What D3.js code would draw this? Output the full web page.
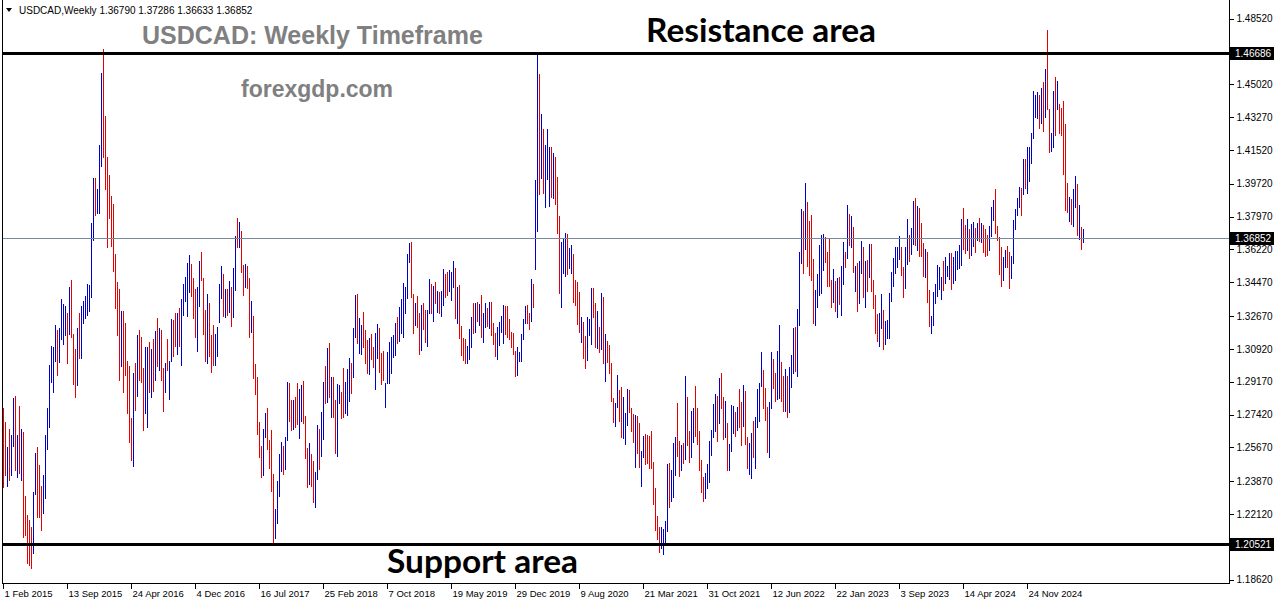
<!DOCTYPE html>
<html><head><meta charset="utf-8">
<script src="https://cdn.jsdelivr.net/npm/d3@7"></script>
<style>
html,body{margin:0;padding:0;background:#fff;}
svg{display:block;}
</style></head><body>
<svg id="chart" width="1276" height="604"></svg>
<script>
// ---------------- data ----------------
const symbolName = "USDCAD,Weekly";
const lastOHLC = ["1.36790", "1.37286", "1.36633", "1.36852"];
const firstWeek = "2015-02-01";
const highs = [
1.2778,1.2705,1.2567,1.2668,1.2631,1.2833,1.2843,1.2631,1.2788,1.2668,
1.2650,1.2309,1.2208,1.2181,1.2144,1.2328,1.2539,1.2567,1.2475,1.2364,
1.2420,1.2631,1.2778,1.3008,1.3109,1.3100,1.3220,1.3192,1.3201,1.3358,
1.3330,1.3321,1.3284,1.3422,1.3459,1.3174,1.3091,1.3201,1.3284,1.3321,
1.3348,1.3376,1.3440,1.3431,1.3762,1.4001,1.4001,1.3946,1.4180,1.4562,
1.4691,1.4332,1.4112,1.4020,1.3909,1.3863,1.3597,1.3450,1.3413,1.3293,
1.3293,1.3229,1.3027,1.2999,1.2723,1.2962,1.3017,1.3168,1.3192,1.3155,
1.2990,1.3100,1.3100,1.3128,1.3091,1.3146,1.3187,1.3256,1.3201,1.3192,
1.2990,1.3017,1.3146,1.3027,1.3253,1.3247,1.3284,1.3284,1.3312,1.3358,
1.3440,1.3477,1.3551,1.3591,1.3542,1.3468,1.3413,1.3422,1.3560,1.3606,
1.3468,1.3302,1.3385,1.3339,1.3165,1.3220,1.3174,1.3210,1.3440,
1.3533,1.3491,1.3409,1.3409,1.3455,1.3420,1.3521,1.3693,1.3787,1.3766,
1.3720,1.3539,1.3544,1.3533,1.3468,1.3347,1.3267,1.3011,1.2940,1.2704,
1.2574,1.2663,1.2748,1.2775,1.2606,1.2660,1.2423,1.2237,1.2388,1.2532,
1.2597,1.2574,1.2624,1.2917,1.2912,1.2819,1.2819,1.2834,1.2908,1.2876,
1.2899,1.2921,1.2734,1.2562,1.2589,1.2532,1.2494,1.2438,1.2686,1.2663,
1.2757,1.2917,1.3001,1.3098,1.3121,1.2944,1.2940,1.2819,1.2905,1.2899,
1.2864,1.2993,1.2917,1.2983,1.3041,1.3015,1.3201,1.3379,1.3384,1.3255,
1.3219,1.3290,1.3192,1.3139,1.3148,1.3171,1.3104,1.3175,1.3224,1.3201,
1.3068,1.3080,1.2908,1.3077,1.3130,1.3157,1.3166,1.3231,1.3263,1.3317,
1.3359,1.3445,1.3423,1.3597,1.3654,1.3659,1.3384,1.3334,1.3374,1.3281,
1.3326,1.3334,1.3299,1.3302,1.3462,1.3437,1.3427,1.3450,1.3402,1.3397,
1.3402,1.3516,1.3491,1.3504,1.3513,1.3504,1.3562,1.3521,1.3424,1.3433,
1.3214,1.3148,1.3143,1.3108,1.3196,1.3260,1.3338,1.3335,1.3344,1.3331,
1.3379,1.3285,1.3338,1.3308,1.3344,1.3344,1.3232,1.3175,1.3211,1.3237,
1.3267,1.3326,1.3321,1.3321,1.3250,1.3184,1.3175,1.3083,1.3101,1.3077,
1.3172,1.3250,1.3321,1.3326,1.3282,1.3463,1.3438,1.3992,1.4658,1.4557,
1.4344,1.4262,1.4179,1.4262,1.4170,1.4166,1.4134,1.4113,1.4006,1.3800,
1.3663,1.3681,1.3711,1.3704,1.3628,1.3646,1.3598,1.3459,1.3450,1.3397,
1.3260,1.3237,1.3161,1.3260,1.3250,1.3415,1.3415,1.3335,1.3296,1.3207,
1.3388,1.3370,1.3172,1.3136,1.3113,1.3015,1.2829,1.2806,1.2953,1.2873,
1.2891,1.2834,1.2749,1.2877,1.2873,1.2776,1.2745,1.2740,1.2735,1.2699,
1.2550,1.2628,1.2639,1.2633,1.2628,1.2657,1.2491,1.2349,1.2202,1.2141,
1.2145,1.2131,1.2177,1.2479,1.2486,1.2447,1.2593,1.2621,1.2806,1.2604,
1.2581,1.2593,1.2948,1.2834,1.2657,1.2763,1.2776,1.2895,1.2776,1.2657,
1.2501,1.2412,1.2430,1.2479,1.2604,1.2660,1.2799,1.2852,1.2842,1.2936,
1.2966,1.2834,1.2817,1.2699,1.2586,1.2794,1.2788,1.2758,1.2785,1.2877,
1.2811,1.2900,1.2870,1.2625,1.2593,1.2643,1.2710,1.2728,1.2877,1.2913,
1.3078,1.2980,1.2882,1.2781,1.2811,1.3078,1.3037,1.2966,1.3083,1.3220,
1.3024,1.2948,1.2984,1.2948,1.2998,1.3060,1.3202,1.3207,1.3303,1.3611,
1.3836,1.3829,1.3978,1.3877,1.3776,1.3806,1.3570,1.3406,1.3492,1.3646,
1.3699,1.3705,1.3687,1.3611,1.3682,1.3460,1.3516,1.3456,1.3468,1.3474,
1.3534,1.3664,1.3611,1.3859,1.3811,1.3801,1.3744,1.3534,1.3548,1.3563,
1.3669,1.3634,1.3563,1.3566,1.3651,1.3651,1.3460,1.3380,1.3278,1.3286,
1.3384,1.3302,1.3242,1.3246,1.3391,1.3503,1.3574,1.3636,1.3636,1.3693,
1.3636,1.3530,1.3633,1.3782,1.3699,1.3734,1.3881,1.3894,1.3853,1.3841,
1.3764,1.3658,1.3627,1.3610,1.3406,1.3267,1.3397,1.3437,1.3539,1.3530,
1.3476,1.3562,1.3583,1.3533,1.3604,1.3604,1.3583,1.3615,1.3615,1.3645,
1.3782,1.3841,1.3752,1.3782,1.3729,1.3757,1.3770,1.3734,1.3761,1.3787,
1.3764,1.3752,1.3729,1.3699,1.3746,1.3846,1.3885,1.3942,1.3746,1.3690,
1.3636,1.3580,1.3619,1.3640,1.3610,1.3587,1.3778,1.3835,1.3894,1.3956,
1.3952,1.4102,1.4102,1.4169,1.4166,1.4240,1.4467,1.4444,1.4462,1.4444,
1.4480,1.4515,1.4586,1.4791,1.4368,1.4244,1.4467,1.4539,1.4521,1.4396,
1.4373,1.4414,1.4290,1.3974,1.3899,1.3889,1.3942,1.4013,1.3970,1.3858,
1.3739,1.37286
];
const lows = [
1.2355,1.2420,1.2361,1.2392,1.2420,1.2576,1.2447,1.2410,1.2429,1.2392,
1.2089,1.2098,1.1951,1.1942,1.1923,1.2006,1.2319,1.2199,1.2199,1.2125,
1.2217,1.2300,1.2558,1.2677,1.2916,1.2861,1.3027,1.2953,1.3021,1.3146,
1.3119,1.3165,1.3017,1.3174,1.3155,1.2907,1.2834,1.2898,1.3045,1.3045,
1.3229,1.3256,1.3275,1.3293,1.3367,1.3670,1.3808,1.3817,1.3817,1.4066,
1.4112,1.3946,1.3633,1.3790,1.3643,1.3505,1.3312,1.3165,1.2925,1.2999,
1.2861,1.2953,1.2751,1.2594,1.2502,1.2466,1.2769,1.2843,1.2925,1.2916,
1.2659,1.2751,1.2677,1.2861,1.2834,1.2870,1.2925,1.2999,1.2981,1.2925,
1.2760,1.2861,1.2981,1.2824,1.3027,1.3054,1.3109,1.3063,1.3109,1.3008,
1.3275,1.3348,1.3266,1.3394,1.3376,1.3256,1.3155,1.3082,1.3321,1.3459,
1.3174,1.3027,1.3017,1.3054,1.2971,1.3008,1.3008,1.3054,1.3238,
1.3365,1.3267,1.3260,1.3272,1.3290,1.3214,1.3260,1.3405,1.3633,1.3636,
1.3503,1.3379,1.3423,1.3414,1.3157,1.3184,1.2935,1.2851,1.2638,1.2517,
1.2411,1.2420,1.2624,1.2557,1.2459,1.2336,1.2056,1.2082,1.2166,1.2308,
1.2443,1.2425,1.2450,1.2606,1.2709,1.2660,1.2668,1.2677,1.2692,1.2619,
1.2709,1.2699,1.2512,1.2354,1.2372,1.2361,1.2278,1.2248,1.2397,1.2450,
1.2523,1.2610,1.2802,1.2811,1.2837,1.2731,1.2731,1.2539,1.2523,1.2802,
1.2722,1.2727,1.2748,1.2740,1.2816,1.2855,1.2944,1.3153,1.3125,1.3072,
1.3063,1.3104,1.3018,1.2965,1.2956,1.3036,1.2997,1.2878,1.3041,1.2970,
1.2905,1.2926,1.2780,1.2912,1.2912,1.2965,1.3050,1.3059,1.3121,1.3134,
1.3178,1.3157,1.3285,1.3365,1.3556,1.3370,1.3175,1.3219,1.3210,1.3063,
1.3086,1.3196,1.3130,1.3107,1.3281,1.3281,1.3242,1.3338,1.3290,1.3281,
1.3267,1.3326,1.3370,1.3379,1.3402,1.3353,1.3424,1.3255,1.3232,1.3148,
1.3060,1.3033,1.3015,1.3015,1.3037,1.3101,1.3175,1.3184,1.3243,1.3220,
1.3154,1.3131,1.3207,1.3214,1.3202,1.3166,1.3118,1.3054,1.3037,1.3113,
1.3184,1.3125,1.3172,1.3154,1.3143,1.3101,1.3065,1.2948,1.2953,1.3029,
1.3029,1.3143,1.3228,1.3232,1.3196,1.3243,1.3314,1.3516,1.3722,1.3917,
1.4001,1.3925,1.3850,1.3996,1.3854,1.3903,1.3894,1.3864,1.3708,1.3388,
1.3314,1.3498,1.3481,1.3491,1.3521,1.3498,1.3344,1.3326,1.3225,1.3184,
1.3131,1.3042,1.2989,1.3033,1.3166,1.3118,1.3264,1.3104,1.3095,1.3077,
1.3090,1.3015,1.2923,1.3024,1.2966,1.2816,1.2705,1.2681,1.2781,1.2710,
1.2625,1.2616,1.2585,1.2687,1.2758,1.2657,1.2598,1.2465,1.2536,1.2461,
1.2362,1.2518,1.2479,1.2486,1.2456,1.2456,1.2266,1.2127,1.2078,1.2012,
1.2030,1.1999,1.2057,1.2124,1.2248,1.2284,1.2302,1.2421,1.2522,1.2415,
1.2447,1.2486,1.2504,1.2581,1.2492,1.2515,1.2598,1.2628,1.2586,1.2447,
1.2332,1.2284,1.2296,1.2350,1.2385,1.2527,1.2625,1.2657,1.2604,1.2699,
1.2776,1.2611,1.2625,1.2447,1.2447,1.2550,1.2646,1.2628,1.2660,1.2678,
1.2581,1.2682,1.2586,1.2456,1.2426,1.2403,1.2518,1.2456,1.2678,1.2710,
1.2895,1.2776,1.2714,1.2545,1.2515,1.2776,1.2882,1.2817,1.2824,1.2829,
1.2817,1.2763,1.2763,1.2728,1.2758,1.2891,1.2966,1.2977,1.2948,1.3220,
1.3552,1.3499,1.3623,1.3534,1.3486,1.3460,1.3232,1.3220,1.3314,1.3380,
1.3388,1.3513,1.3557,1.3428,1.3428,1.3318,1.3344,1.3296,1.3261,1.3332,
1.3273,1.3438,1.3531,1.3575,1.3646,1.3634,1.3504,1.3403,1.3296,1.3339,
1.3495,1.3367,1.3314,1.3403,1.3477,1.3403,1.3309,1.3175,1.3136,1.3108,
1.3201,1.3089,1.3118,1.3148,1.3148,1.3349,1.3427,1.3494,1.3530,1.3569,
1.3485,1.3370,1.3414,1.3544,1.3562,1.3597,1.3651,1.3645,1.3619,1.3587,
1.3587,1.3480,1.3473,1.3343,1.3214,1.3175,1.3219,1.3334,1.3373,1.3409,
1.3356,1.3406,1.3441,1.3480,1.3462,1.3409,1.3441,1.3459,1.3516,1.3521,
1.3539,1.3627,1.3601,1.3619,1.3579,1.3592,1.3640,1.3610,1.3672,1.3668,
1.3663,1.3610,1.3587,1.3592,1.3619,1.3693,1.3778,1.3711,1.3672,1.3491,
1.3427,1.3459,1.3526,1.3526,1.3414,1.3468,1.3548,1.3729,1.3805,1.3849,
1.3805,1.3917,1.3952,1.3921,1.3988,1.4084,1.4214,1.4325,1.4320,1.4267,
1.4297,1.4254,1.4325,1.4368,1.4143,1.4148,1.4166,1.4231,1.4368,1.4244,
1.4231,1.4023,1.3832,1.3823,1.3775,1.3757,1.3746,1.3849,1.3699,1.3675,
1.3627,1.36633
];
// U = bar closed up (blue), D = bar closed down (red)
const barDirection =
"DDUDUUDUDU"+"DDDDDUUDDD"+"UUUUUUUDUU"+"UUDUDDDUDU"+"UUUUUUDUUU"+"DDDDDDDDDU"+"DDDDDUDUDD"+"DUUDUDUDUD"+"DUDUUDDUDU"+"UUUUDDDUUD"+"DDUDDDUUU"+
"UDUDUDUUDU"+"DDUDDUDDDD"+"DUUDDDDUUU"+"UDUUDDUDDU"+"UDDDUDDUUD"+"UUDUDUDDUU"+"DDUUUDUUDU"+"UDDDUDDUUD"+"DDUUUUUUDU"+"UUUUUDDUDD"+"UDDUUDUDUD"+
"UUDDUUUDUD"+"DDDUUUDUDU"+"DUUDUDDDUU"+"UUDDDDDDUU"+"UUUDDUDUUD"+"UDUUUDUDDD"+"UUUDUUDDDD"+"UDDUUUDDUD"+"UDUDDDDUUD"+"DUUUDDDUDD"+"UUDDDDDDDD"+
"UUUUDUUUDD"+"UDUDDUUDDD"+"DDUUUUUUDU"+"DDUDUUUDUD"+"DUDDUUDUUU"+"UDDDUUDDUU"+"DDUDUUUDUU"+"UDUDDDDUUU"+"UUDDDDUDUD"+"UUDUDUDUDU"+"UDUDUDDDDU"+
"UDUUUUUUUU"+"DDUUDUUDUD"+"DDUDDUUUUU"+"UDUUUDUUUU"+"UDDUDUUDUD"+"UDDDUUUDDD"+"DUUDDUUUUU"+"DUDUUUUUUD"+"UDUDDUUDUD"+"DDDDUDUUDU"+"DU";
const xTickLabels = ["1 Feb 2015","13 Sep 2015","24 Apr 2016","4 Dec 2016","16 Jul 2017","25 Feb 2018","7 Oct 2018","19 May 2019","29 Dec 2019","9 Aug 2020","21 Mar 2021","31 Oct 2021","12 Jun 2022","22 Jan 2023","3 Sep 2023","14 Apr 2024","24 Nov 2024"];
const yTickValues = [1.48520,1.46770,1.45020,1.43270,1.41520,1.39720,1.37970,1.36220,1.34470,1.32670,1.30920,1.29170,1.27420,1.25670,1.23870,1.22120,1.20370,1.18620];
const resistanceLevel = 1.46686;
const supportLevel = 1.20521;
const currentPrice = 1.36852;
const priceRange = [1.18449, 1.49403];
const titleText = "USDCAD: Weekly Timeframe";
const siteText = "forexgdp.com";
const resistanceText = "Resistance area";
const supportText = "Support area";

// ---------------- drawing ----------------
const svg = d3.select("#chart");
const plot = {left: 2, right: 1229, top: 0, bottom: 583};
const n = highs.length;
const parseDay = d3.utcParse("%Y-%m-%d");
const start = parseDay(firstWeek);
const dates = d3.range(n).map(i => d3.utcWeek.offset(start, i));
const bars = dates.map((d, i) => ({date: d, high: highs[i], low: lows[i], up: barDirection[i] === "U"}));

const x = d3.scaleUtc().domain([dates[0], dates[n - 1]]).range([3, 3 + 2 * (n - 1)]);
const y = d3.scaleLinear().domain(priceRange).range([plot.bottom, 2]);

const axisFont = "'Liberation Sans', Arial, sans-serif";

// bars
svg.append("g").attr("shape-rendering", "crispEdges")
  .selectAll("line").data(bars).join("line")
  .attr("x1", d => Math.round(x(d.date)) + 0.5)
  .attr("x2", d => Math.round(x(d.date)) + 0.5)
  .attr("y1", d => Math.round(y(d.high)))
  .attr("y2", d => Math.round(y(d.low)) + 1)
  .attr("stroke", d => d.up ? "#0000cc" : "#e60000")
  .attr("stroke-width", 1);

// current price line
svg.append("line")
  .attr("x1", plot.left).attr("x2", plot.right)
  .attr("y1", Math.round(y(currentPrice)) + 0.5).attr("y2", Math.round(y(currentPrice)) + 0.5)
  .attr("stroke", "#778899").attr("stroke-width", 1).attr("shape-rendering", "crispEdges");

// support / resistance lines
[resistanceLevel, supportLevel].forEach(v => {
  svg.append("line")
    .attr("x1", plot.left).attr("x2", plot.right)
    .attr("y1", Math.round(y(v)) + 0.5).attr("y2", Math.round(y(v)) + 0.5)
    .attr("stroke", "#000").attr("stroke-width", 3).attr("shape-rendering", "crispEdges");
});

// frame
const frame = svg.append("g").attr("stroke", "#000").attr("shape-rendering", "crispEdges");
frame.append("line").attr("x1", plot.left + 0.5).attr("x2", plot.left + 0.5).attr("y1", plot.top).attr("y2", plot.bottom + 0.5);
frame.append("line").attr("x1", plot.right + 0.5).attr("x2", plot.right + 0.5).attr("y1", plot.top).attr("y2", plot.bottom + 0.5);
frame.append("line").attr("x1", plot.left).attr("x2", plot.right + 1).attr("y1", plot.bottom + 0.5).attr("y2", plot.bottom + 0.5);

// right axis
const yAxis = d3.axisRight(y).tickValues(yTickValues).tickSize(4).tickPadding(3).tickFormat(d3.format(".5f"));
const gy = svg.append("g").attr("transform", `translate(${plot.right + 0.5},0)`).call(yAxis);
gy.select(".domain").remove();
gy.selectAll(".tick line").attr("stroke", "#000").attr("shape-rendering", "crispEdges");
gy.selectAll(".tick text").attr("fill", "#000").style("font-family", axisFont).style("font-size", "10px");

// highlighted price labels
[resistanceLevel, currentPrice, supportLevel].forEach(v => {
  const yy = Math.round(y(v));
  svg.append("rect").attr("x", plot.right + 1).attr("y", yy - 6).attr("width", 44).attr("height", 13).attr("fill", "#000");
  svg.append("text").attr("x", plot.right + 6).attr("y", yy + 4)
    .attr("fill", "#fff").style("font-family", axisFont).style("font-size", "10px")
    .text(d3.format(".5f")(v));
});

// bottom axis
const parseLabel = d3.utcParse("%d %b %Y");
const tickDates = xTickLabels.map(s => parseLabel(s));
const xAxis = d3.axisBottom(x).tickValues(tickDates).tickSize(5).tickFormat((d, i) => xTickLabels[i]);
const gx = svg.append("g").attr("transform", `translate(0,${plot.bottom + 0.5})`).call(xAxis);
gx.select(".domain").remove();
gx.selectAll(".tick line").attr("stroke", "#000").attr("shape-rendering", "crispEdges");
gx.selectAll(".tick text").attr("fill", "#000").attr("text-anchor", "start").attr("x", 1).attr("y", 7)
  .style("font-family", axisFont).style("font-size", "9.5px");

// header
svg.append("path").attr("d", "M6,8 L12,8 L9,12 Z").attr("fill", "#000");
svg.append("text").attr("x", 19).attr("y", 14)
  .style("font-family", axisFont).style("font-size", "10px").attr("fill", "#000")
  .text(symbolName + "  " + lastOHLC.join(" "));

// titles
svg.append("text").attr("x", 142).attr("y", 44)
  .style("font-family", axisFont).style("font-weight", "bold").style("font-size", "25px").attr("fill", "#808080")
  .text(titleText);
svg.append("text").attr("x", 241).attr("y", 97)
  .style("font-family", axisFont).style("font-weight", "bold").style("font-size", "23px").attr("fill", "#808080")
  .text(siteText);
svg.append("text").attr("x", 646).attr("y", 42)
  .style("font-family", "Lato, 'Open Sans', sans-serif").style("font-weight", "bold").style("font-size", "32px").attr("fill", "#000")
  .attr("textLength", 230).attr("lengthAdjust", "spacingAndGlyphs")
  .text(resistanceText);
svg.append("text").attr("x", 387).attr("y", 573)
  .style("font-family", "Lato, 'Open Sans', sans-serif").style("font-weight", "bold").style("font-size", "32px").attr("fill", "#000")
  .attr("textLength", 191).attr("lengthAdjust", "spacingAndGlyphs")
  .text(supportText);
</script>
</body></html>
